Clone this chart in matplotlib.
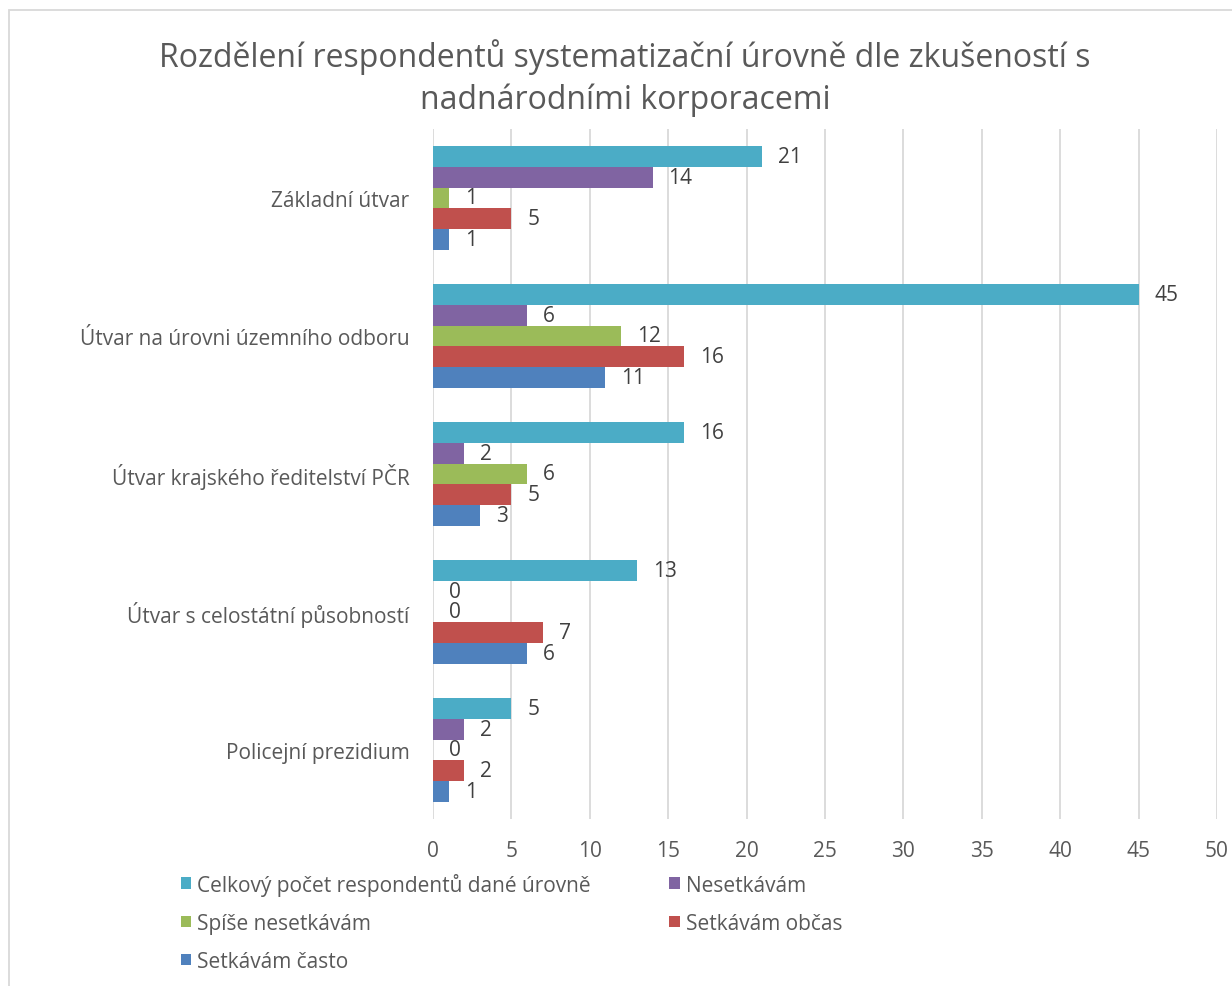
import numpy as np
import matplotlib.pyplot as plt
from matplotlib.patches import Rectangle

plt.rcParams["font.family"] = ["Open Sans", "DejaVu Sans"]

categories = [
    "Základní útvar",
    "Útvar na úrovni územního odboru",
    "Útvar krajského ředitelství PČR",
    "Útvar s celostátní působností",
    "Policejní prezidium",
]
series_names = [
    "Celkový počet respondentů dané úrovně",
    "Nesetkávám",
    "Spíše nesetkávám",
    "Setkávám občas",
    "Setkávám často",
]
celkem = [21, 45, 16, 13, 5]
nesetkavam = [14, 6, 2, 0, 2]
spise_nesetkavam = [1, 12, 6, 0, 0]
obcas = [5, 16, 5, 7, 2]
casto = [1, 11, 3, 6, 1]

values = [celkem, nesetkavam, spise_nesetkavam, obcas, casto]
colors = ["#4BACC6", "#8064A2", "#9BBB59", "#C0504D", "#4F81BD"]
text_col = "#595959"

W, H = 1232, 987
fig = plt.figure(figsize=(W / 100, H / 100), dpi=100)
ax = fig.add_axes([433 / W, 1 - 820 / H, (1217 - 433) / W, (820 - 130) / H])

# frame around the chart area (cut off on right/bottom like the screenshot)
fig.patches.append(Rectangle((8.5 / W, -0.1), 1.2, 1 - 10.5 / H + 0.1,
                             transform=fig.transFigure, fill=False,
                             edgecolor="#D9D9D9", linewidth=1.3))

n_cat = len(categories)
n_ser = len(values)
bar_h = 0.152
y_centers = np.arange(n_cat)

for i, (vals, col, name) in enumerate(zip(values, colors, series_names)):
    offs = (i - (n_ser - 1) / 2) * bar_h
    ypos = y_centers + offs
    ax.barh(ypos, vals, height=bar_h, color=col, label=name, zorder=3)
    for yy, v in zip(ypos, vals):
        ax.annotate(str(v), (v, yy), xytext=(11.5, 0), textcoords="offset points",
                    ha="left", va="center", fontsize=15, color="#404040")

ax.set_ylim(n_cat - 0.5, -0.5)
ax.set_xlim(0, 50)
ax.set_xticks(np.arange(0, 51, 5))
ax.set_yticks(y_centers)
ax.set_yticklabels(categories)
ax.tick_params(axis="both", length=0, labelsize=15, labelcolor=text_col)
ax.tick_params(axis="y", pad=17)
ax.tick_params(axis="x", pad=15)
ax.grid(axis="x", color="#D9D9D9", linewidth=1.3, zorder=0)
for s in ["top", "right", "bottom", "left"]:
    ax.spines[s].set_visible(False)

fig.text(625 / W, 1 - 78 / H,
         "Rozdělení respondentů systematizační úrovně dle zkušeností s\nnadnárodními korporacemi",
         ha="center", va="center", fontsize=23, color=text_col, linespacing=1.36)

handles, labels = ax.get_legend_handles_labels()
order = [0, 2, 4, 1, 3]
leg = fig.legend([handles[k] for k in order], [labels[k] for k in order],
                 loc="upper left", bbox_to_anchor=(162 / W, 1 - 855 / H),
                 ncol=2, frameon=False, fontsize=15, labelcolor=text_col,
                 handlelength=0.5, handleheight=0.5, handletextpad=0.3,
                 columnspacing=3.75, labelspacing=0.82)

fig.savefig("out.png", dpi=100)
